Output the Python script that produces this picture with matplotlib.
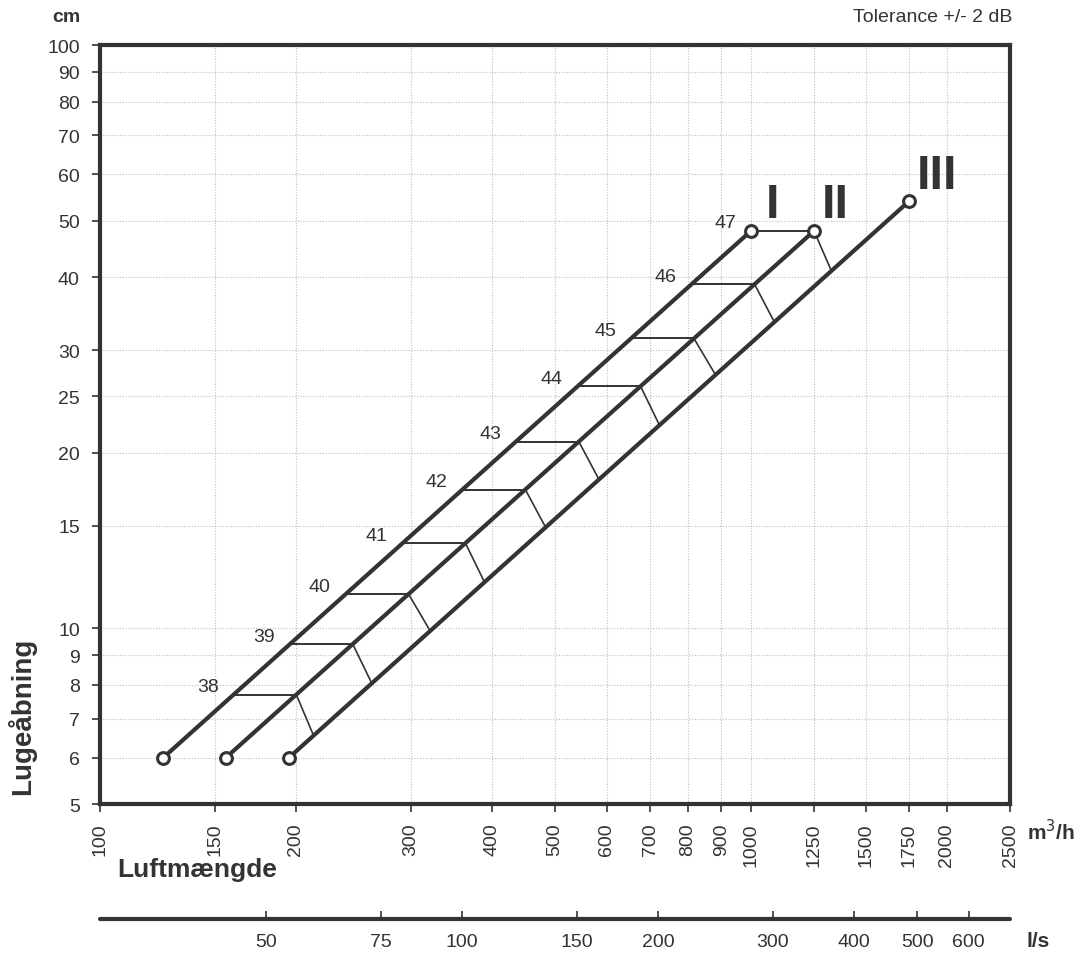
import numpy as np
import matplotlib
matplotlib.use("Agg")
import matplotlib.pyplot as plt
from matplotlib.ticker import FixedLocator, FixedFormatter, NullLocator

plt.rcParams['font.family'] = ['Liberation Sans', 'DejaVu Sans']

# ---- data ----
line_I_x = [125, 1000]
line_I_y = [6, 48]
line_II_x = [156, 1250]
line_II_y = [6, 48]
line_III_x = [195, 1750]
line_III_y = [6, 54]
line_names = ['I', 'II', 'III']

levels = [38, 39, 40, 41, 42, 43, 44, 45, 46, 47]
rung_y = [7.7, 9.4, 11.45, 14.0, 17.3, 20.9, 26.0, 31.4, 38.9, 48.0]
rung_end_III_y = [6.55, 8.05, 9.9, 12.0, 14.9, 18.0, 22.3, 27.2, 33.5, 41.0]

x_ticks = [100, 150, 200, 300, 400, 500, 600, 700, 800, 900, 1000, 1250, 1500, 1750, 2000, 2500]
y_ticks = [5, 6, 7, 8, 9, 10, 15, 20, 25, 30, 40, 50, 60, 70, 80, 90, 100]
ls_ticks = [50, 75, 100, 150, 200, 300, 400, 500, 600]
m3h_per_ls = 3.6

C = '#333333'

fig = plt.figure(figsize=(10.85, 9.54), dpi=100)
L, B, W, H = 100/1085, 1 - 805/954, 910/1085, 759/954
ax = fig.add_axes([L, B, W, H])
ax.set_xscale('log')
ax.set_yscale('log')
ax.set_xlim(100, 2500)
ax.set_ylim(5, 100)

ax.xaxis.set_major_locator(FixedLocator(x_ticks))
ax.xaxis.set_major_formatter(FixedFormatter([str(v) for v in x_ticks]))
ax.xaxis.set_minor_locator(NullLocator())
ax.yaxis.set_major_locator(FixedLocator(y_ticks))
ax.yaxis.set_major_formatter(FixedFormatter([str(v) for v in y_ticks]))
ax.yaxis.set_minor_locator(NullLocator())
ax.tick_params(axis='both', direction='out', length=6, width=1.2, color=C,
               labelsize=14, labelcolor=C)
ax.tick_params(axis='x', labelrotation=90, pad=7)
ax.tick_params(axis='y', pad=8.5)
for s in ax.spines.values():
    s.set_linewidth(3)
    s.set_color(C)
ax.grid(True, which='major', linestyle=(0, (1, 1.5)), color='#bdbdbd', linewidth=0.8)
ax.set_axisbelow(True)


def x_on(lx, ly, y):
    return 10 ** np.interp(np.log10(y), np.log10(ly), np.log10(lx))


lines = [(line_I_x, line_I_y), (line_II_x, line_II_y), (line_III_x, line_III_y)]
for lx, ly in lines:
    ax.plot(lx, ly, color=C, lw=3, solid_capstyle='butt', zorder=3)
    ax.plot(lx, ly, linestyle='none', marker='o', ms=8.5, mew=2.2,
            mfc='white', mec=C, zorder=5)

for lev, y, y3 in zip(levels, rung_y, rung_end_III_y):
    x1 = x_on(line_I_x, line_I_y, y)
    x2 = x_on(line_II_x, line_II_y, y)
    x3 = x_on(line_III_x, line_III_y, y3)
    ax.plot([x1, x2], [y, y], color=C, lw=1.4, zorder=2)
    ax.plot([x2, x3], [y, y3], color=C, lw=1.2, zorder=2)
    ax.annotate(str(lev), (x1, y), xytext=(-15, 8), textcoords='offset pixels',
                ha='right', va='center', fontsize=14, color=C)

name_offsets = [(22, 4), (21, 4), (28, 3)]
for (lx, ly), nm, off in zip(lines, line_names, name_offsets):
    ax.annotate(nm, (lx[-1], ly[-1]), xytext=off, textcoords='offset pixels',
                ha='center', va='bottom', fontsize=35, fontweight='bold', color=C)

# ---- secondary l/s axis ----
ax2 = fig.add_axes([L, 1 - 920/954, W, 0.001])
ax2.set_xscale('log')
ax2.set_xlim(100 / m3h_per_ls, 2500 / m3h_per_ls)
ax2.xaxis.set_major_locator(FixedLocator(ls_ticks))
ax2.xaxis.set_major_formatter(FixedFormatter([str(v) for v in ls_ticks]))
ax2.xaxis.set_minor_locator(NullLocator())
ax2.set_yticks([])
for k in ['top', 'left', 'right']:
    ax2.spines[k].set_visible(False)
ax2.spines['bottom'].set_linewidth(3)
ax2.spines['bottom'].set_color(C)
ax2.spines['bottom'].set_capstyle('round')
ax2.tick_params(axis='x', direction='in', length=6, width=1.2, color=C,
                labelsize=14, labelcolor=C, pad=10)
ax2.patch.set_visible(False)

# ---- texts ----
fig.text(52/1085, 1 - 18/954, 'cm', fontsize=14, fontweight='bold', color=C,
         ha='left', va='center')
fig.text(1012/1085, 1 - 18/954, 'Tolerance +/- 2 dB', fontsize=14, color=C,
         ha='right', va='center')
fig.text(22/1085, 1 - 716/954, 'Lugeåbning', fontsize=20, fontweight='bold', color=C,
         rotation=90, ha='center', va='center')
fig.text(117/1085, 1 - 870/954, 'Luftmængde', fontsize=19, fontweight='bold', color=C,
         ha='left', va='center')
fig.text(1027/1085, 1 - 832/954, 'm$^3$/h', fontsize=15, fontweight='bold', color=C,
         ha='left', va='center')
fig.text(1027/1085, 1 - 942/954, 'l/s', fontsize=15, fontweight='bold', color=C,
         ha='left', va='center')

fig.savefig('out.png', dpi=100)
